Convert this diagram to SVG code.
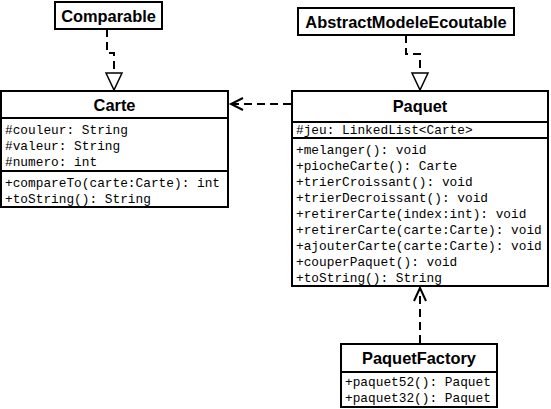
<svg xmlns="http://www.w3.org/2000/svg" width="551" height="409" viewBox="0 0 551 409">
<style>
.box{fill:#fff;stroke:#000;stroke-width:2}
.div{stroke:#000;stroke-width:2}
.title{font-family:"Liberation Sans",Arial,sans-serif;font-weight:bold;font-size:16.4px;text-anchor:middle;fill:#000}
.mono{font-family:"Liberation Mono","Courier New",monospace;font-size:12.8px;fill:#000}
.dash{fill:none;stroke:#000;stroke-width:2;stroke-dasharray:8 5}
.head{fill:none;stroke:#000;stroke-width:2}
.tri{fill:#fff;stroke:#000;stroke-width:1.5}
</style>
<rect width="551" height="409" fill="#fff"/>
<g id="connectors">
  <path class="dash" d="M107,29 V53 H114 V72"/>
  <polygon class="tri" points="106,73 122,73 114,90"/>
  <path class="dash" d="M406,35 V54 H420 V72"/>
  <polygon class="tri" points="412,73 428,73 420,90"/>
  <path class="dash" d="M291,104 H232"/>
  <path class="head" d="M243,98 L231,104 L243,110"/>
  <path class="dash" d="M420,343 V290"/>
  <path class="head" d="M414,301 L420,288 L426,301"/>
</g>
<g id="comparable">
  <rect class="box" x="55" y="2" width="107" height="27"/>
  <text class="title" x="108.5" y="21.5">Comparable</text>
</g>
<g id="abstractModeleEcoutable">
  <rect class="box" x="298" y="8" width="216" height="27"/>
  <text class="title" x="406" y="27.5">AbstractModeleEcoutable</text>
</g>
<g id="carte">
  <rect class="box" x="1" y="91" width="227" height="116"/>
  <line class="div" x1="1" y1="118" x2="228" y2="118"/>
  <line class="div" x1="1" y1="171" x2="228" y2="171"/>
  <text class="title" x="114.5" y="111">Carte</text>
  <text class="mono" x="5" y="134">#couleur: String</text>
  <text class="mono" x="5" y="150">#valeur: String</text>
  <text class="mono" x="5" y="166">#numero: int</text>
  <text class="mono" x="5" y="187">+compareTo(carte:Carte): int</text>
  <text class="mono" x="5" y="203">+toString(): String</text>
</g>
<g id="paquet">
  <rect class="box" x="292" y="91" width="256" height="195"/>
  <line class="div" x1="292" y1="122" x2="548" y2="122"/>
  <line class="div" x1="292" y1="138" x2="548" y2="138"/>
  <text class="title" x="420" y="112">Paquet</text>
  <text class="mono" x="296" y="134">#jeu: LinkedList&lt;Carte&gt;</text>
  <text class="mono" x="296" y="154">+melanger(): void</text>
  <text class="mono" x="296" y="170">+piocheCarte(): Carte</text>
  <text class="mono" x="296" y="186">+trierCroissant(): void</text>
  <text class="mono" x="296" y="202">+trierDecroissant(): void</text>
  <text class="mono" x="296" y="218">+retirerCarte(index:int): void</text>
  <text class="mono" x="296" y="234">+retirerCarte(carte:Carte): void</text>
  <text class="mono" x="296" y="250">+ajouterCarte(carte:Carte): void</text>
  <text class="mono" x="296" y="266">+couperPaquet(): void</text>
  <text class="mono" x="296" y="282">+toString(): String</text>
</g>
<g id="paquetFactory">
  <rect class="box" x="341" y="344" width="156" height="63"/>
  <line class="div" x1="341" y1="372" x2="497" y2="372"/>
  <text class="title" x="419" y="364">PaquetFactory</text>
  <text class="mono" x="345" y="386">+paquet52(): Paquet</text>
  <text class="mono" x="345" y="402">+paquet32(): Paquet</text>
</g>
</svg>
